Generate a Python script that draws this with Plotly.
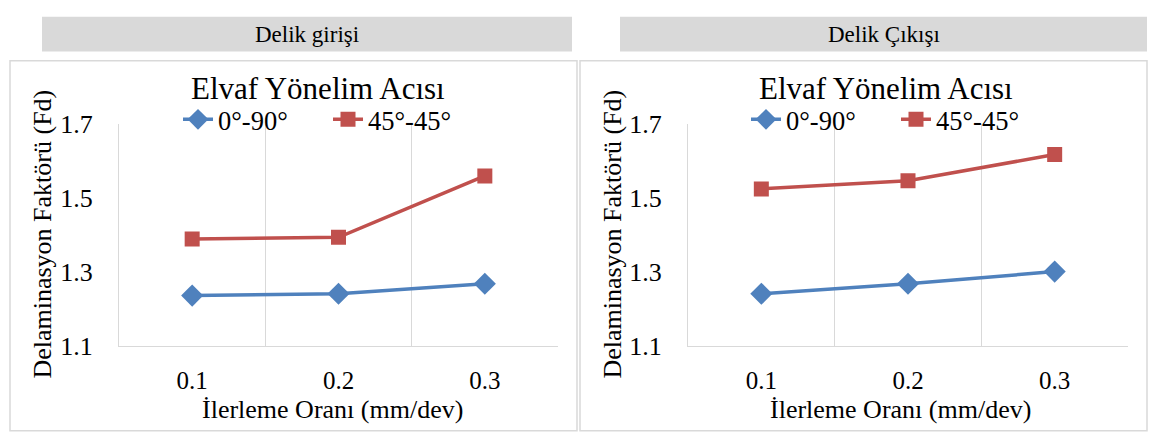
import plotly.graph_objects as go

# Feed rates (mm/dev) on the category axis
feed_rates = ["0.1", "0.2", "0.3"]

# Delamination factor, hole entry
entry_0_90 = [1.236, 1.241, 1.268]
entry_45_45 = [1.389, 1.394, 1.560]

# Delamination factor, hole exit
exit_0_90 = [1.241, 1.268, 1.301]
exit_45_45 = [1.525, 1.547, 1.618]

y_ticks = [1.1, 1.3, 1.5, 1.7]
panel_titles = ["Delik girişi", "Delik Çıkışı"]
chart_title = "Elvaf Yönelim Acısı"
series_names = ["0°-90°", "45°-45°"]
x_title = "İlerleme Oranı (mm/dev)"
y_title = "Delaminasyon Faktörü (Fd)"

W, H = 1149, 444
BLUE = "#4f81bd"
RED = "#c0504d"
GRID = "#d9d9d9"
FONT = "Liberation Serif"


def px(x):
    return x / W


def py(y):
    return 1 - y / H


fig = go.Figure()

panels = [
    dict(xa="x", ya="y", legend="legend", s1=entry_0_90, s2=entry_45_45),
    dict(xa="x2", ya="y2", legend="legend2", s1=exit_0_90, s2=exit_45_45),
]
for p in panels:
    fig.add_trace(go.Scatter(
        x=feed_rates, y=p["s1"], name=series_names[0], mode="lines+markers",
        line=dict(color=BLUE, width=3.5),
        marker=dict(symbol="diamond", size=17, color=BLUE),
        xaxis=p["xa"], yaxis=p["ya"], legend=p["legend"]))
    fig.add_trace(go.Scatter(
        x=feed_rates, y=p["s2"], name=series_names[1], mode="lines+markers",
        line=dict(color=RED, width=3.5),
        marker=dict(symbol="square", size=15, color=RED),
        xaxis=p["xa"], yaxis=p["ya"], legend=p["legend"]))

xaxis_common = dict(
    type="category", tickson="boundaries", showgrid=True, gridcolor=GRID, gridwidth=1.3,
    showline=True, linecolor=GRID, linewidth=1.3, ticks="", range=[-0.5, 2.5],
    ticklabelstandoff=12, tickangle=0,
    tickfont=dict(family=FONT, size=25, color="#000000"), zeroline=False,
)
yaxis_common = dict(
    range=[1.1, 1.7], tickvals=y_ticks, ticktext=[f"{v:.1f}" for v in y_ticks],
    showgrid=False, showline=True, linecolor=GRID, linewidth=1.3, ticks="",
    ticklabelstandoff=20, tickfont=dict(family=FONT, size=26, color="#000000"),
    zeroline=False,
)

legend_common = dict(
    orientation="h", yanchor="middle", xanchor="left",
    font=dict(family=FONT, size=26.5, color="#000000"), bgcolor="rgba(0,0,0,0)",
    entrywidth=105, tracegroupgap=0,
)

y_dom = [py(355), py(118)]
fig.update_layout(
    width=W, height=H, margin=dict(l=0, r=0, t=0, b=0),
    paper_bgcolor="white", plot_bgcolor="white",
    xaxis=dict(domain=[px(119), px(558)], anchor="y", **xaxis_common),
    yaxis=dict(domain=y_dom, anchor="x", **yaxis_common),
    xaxis2=dict(domain=[px(688), px(1128)], anchor="y2", **xaxis_common),
    yaxis2=dict(domain=y_dom, anchor="x2", **yaxis_common),
    legend=dict(x=px(178), y=py(113), **legend_common),
    legend2=dict(x=px(746), y=py(113), **legend_common),
    showlegend=True,
)

shapes = []
annotations = []
boxes = [
    dict(head=(42, 572), box=(10, 577), cx=307, title_cx=318, xt_cx=332),
    dict(head=(620, 1147), box=(580, 1147), cx=884, title_cx=886, xt_cx=900),
]
for i, b in enumerate(boxes):
    # grey header bar with the panel name
    shapes.append(dict(type="rect", xref="paper", yref="paper",
                       x0=px(b["head"][0]), x1=px(b["head"][1]), y0=py(40), y1=py(3),
                       fillcolor="#d9d9d9", line=dict(width=0), layer="below"))
    # chart frame
    shapes.append(dict(type="rect", xref="paper", yref="paper",
                       x0=px(b["box"][0]), x1=px(b["box"][1]), y0=py(446), y1=py(50),
                       fillcolor="rgba(0,0,0,0)", line=dict(color=GRID, width=1.5), layer="below"))
    annotations.append(dict(text=panel_titles[i], x=px(b["cx"]), y=py(22), xref="paper", yref="paper",
                            showarrow=False, xanchor="center", yanchor="middle",
                            font=dict(family=FONT, size=23, color="#000000")))
    annotations.append(dict(text=chart_title, x=px(b["title_cx"]), y=py(80), xref="paper", yref="paper",
                            showarrow=False, xanchor="center", yanchor="middle",
                            font=dict(family=FONT, size=31, color="#000000")))
    annotations.append(dict(text=x_title, x=px(b["xt_cx"]), y=py(423), xref="paper", yref="paper",
                            showarrow=False, xanchor="center", yanchor="middle",
                            font=dict(family=FONT, size=26, color="#000000")))
    annotations.append(dict(text=y_title, x=px(b["box"][0] + 33), y=py(236), xref="paper", yref="paper",
                            showarrow=False, xanchor="center", yanchor="middle", textangle=-90,
                            font=dict(family=FONT, size=26, color="#000000")))

fig.update_layout(shapes=shapes, annotations=annotations)

fig.write_html("out.html")
